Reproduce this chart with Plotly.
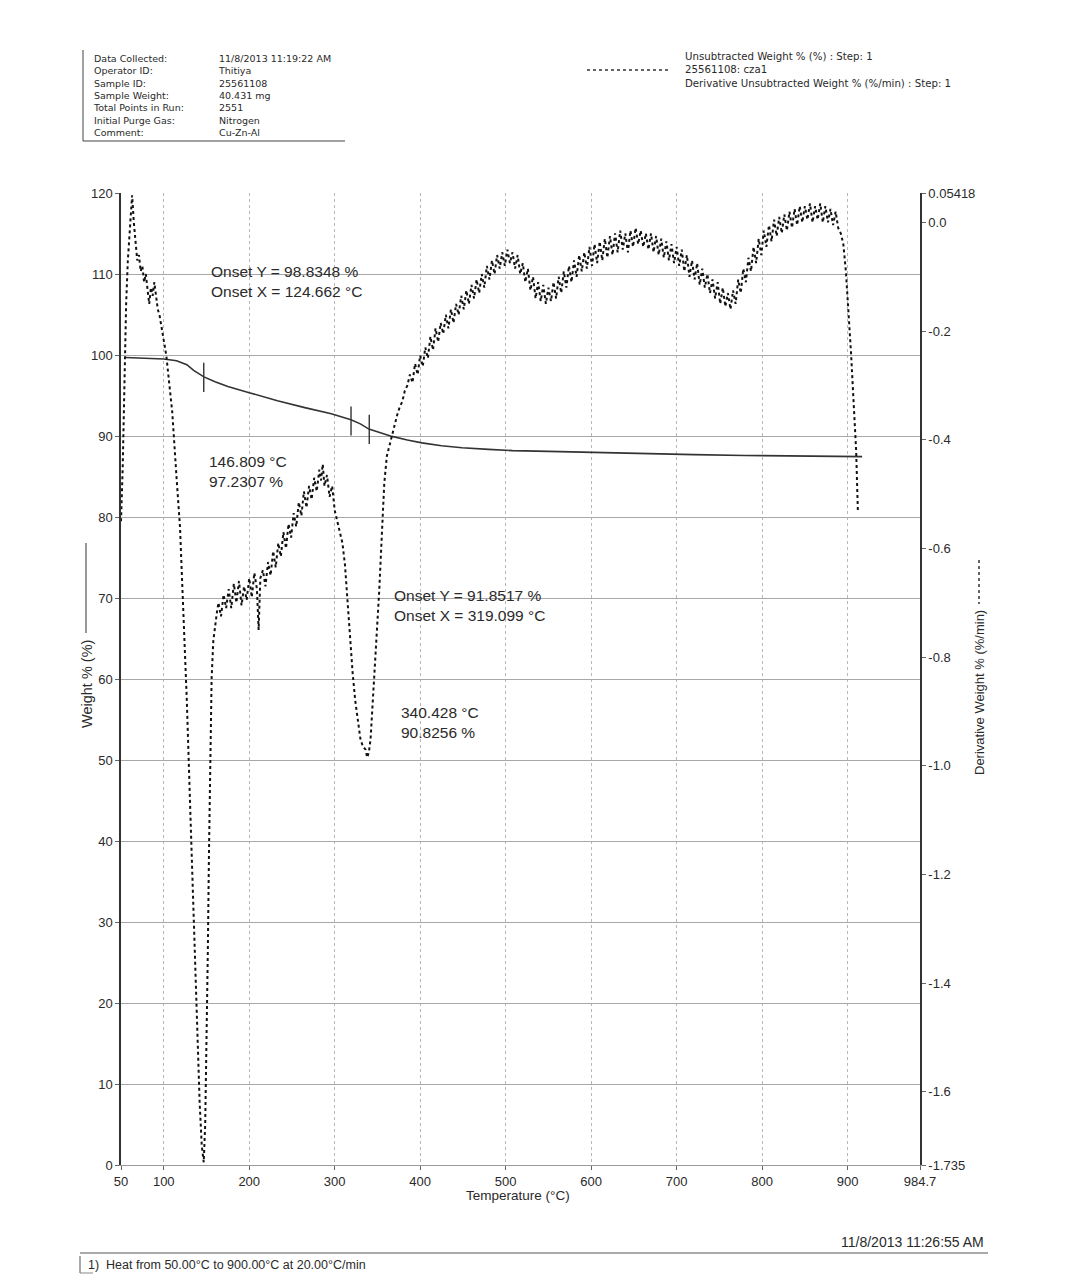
import plotly.graph_objects as go

# ---------------- data ----------------
weight_temp = [55, 80, 100, 115, 127, 135, 147, 160, 175, 200, 233, 265, 296, 319, 330, 340,
               355, 367, 385, 402, 425, 449, 480, 508, 550, 602, 660, 720, 780, 838, 880, 917]
weight_pct = [99.7, 99.6, 99.5, 99.3, 98.8, 98.1, 97.3, 96.7, 96.1, 95.35, 94.35, 93.5, 92.75, 92.0, 91.5, 90.85,
              90.3, 89.95, 89.5, 89.15, 88.8, 88.55, 88.35, 88.2, 88.1, 87.95, 87.8, 87.7, 87.6, 87.55, 87.5, 87.45]

deriv_temp = [50, 52, 54, 56, 58, 60, 62, 63, 65, 67, 69, 71, 73, 75, 77, 79, 81, 83, 85, 87, 89, 91, 93, 95, 97, 99,
              101, 103, 106, 110, 115, 119, 123, 127, 131, 135, 139, 142, 144.5, 146.8, 148.5, 150, 151.5, 153, 154.5,
              156, 158, 160, 162, 164, 167, 170, 173, 176, 179, 182, 185, 188, 191, 194, 197, 200, 203, 206, 209, 211,
              213, 216, 219, 222, 225, 228, 231, 234, 237, 240, 243, 246, 249, 252, 255, 258, 261, 264, 267, 270, 273,
              276, 279, 282, 284, 286, 288, 291, 294, 297, 300, 303, 306, 309, 312, 315, 318, 321, 324, 327, 330, 333,
              336, 338, 340, 342, 344, 346, 349, 352, 355, 358, 361, 364, 367, 370, 373, 376, 379, 382, 385, 388, 391,
              394, 397, 400, 403, 406, 409, 412, 415, 418, 421, 424, 427, 430, 433, 436, 439, 442, 445, 448, 451, 454,
              457, 460, 463, 466, 469, 472, 475, 478, 481, 484, 487, 490, 493, 496, 499, 502, 505, 508, 511, 514, 517,
              520, 523, 526, 529, 532, 535, 538, 541, 544, 547, 550, 553, 556, 559, 562, 565, 568, 571, 574, 577, 580,
              583, 586, 589, 592, 595, 598, 601, 604, 607, 610, 613, 616, 619, 622, 625, 628, 631, 634, 637, 640, 643,
              646, 649, 652, 655, 658, 661, 664, 667, 670, 673, 676, 679, 682, 685, 688, 691, 694, 697, 700, 703, 706,
              709, 712, 715, 718, 721, 724, 727, 730, 733, 736, 739, 742, 745, 748, 751, 754, 757, 760, 763, 766, 769,
              772, 775, 778, 781, 784, 787, 790, 793, 796, 799, 802, 805, 808, 811, 814, 817, 820, 823, 826, 829, 832,
              835, 838, 841, 844, 847, 850, 853, 856, 859, 862, 865, 868, 871, 874, 877, 880, 883, 886, 889, 892, 895,
              898, 901, 904, 907, 910, 912, 914, 915.5, 917]
deriv_val = [-0.55, -0.45, -0.30, -0.15, -0.07, -0.02, 0.03, 0.05, 0.0, -0.04, -0.07, -0.06, -0.09, -0.08, -0.11, -0.095,
             -0.12, -0.15, -0.12, -0.135, -0.11, -0.14, -0.16, -0.17, -0.19, -0.21,
             -0.23, -0.245, -0.29, -0.35, -0.47, -0.56, -0.72, -0.88, -1.08, -1.28, -1.47, -1.62, -1.70, -1.73, -1.66,
             -1.52, -1.35, -1.15, -0.98,
             -0.84, -0.77, -0.74, -0.72, -0.70, -0.725, -0.685, -0.71, -0.675, -0.71, -0.665, -0.70, -0.66, -0.705,
             -0.67, -0.695, -0.655, -0.69, -0.645, -0.675, -0.75,
             -0.655, -0.64, -0.67, -0.625, -0.65, -0.605, -0.635, -0.59, -0.615, -0.57, -0.60, -0.555, -0.58, -0.535,
             -0.56, -0.515, -0.54, -0.495, -0.525, -0.485, -0.51,
             -0.47, -0.495, -0.455, -0.475, -0.445, -0.485, -0.465, -0.505, -0.485, -0.53, -0.55, -0.57, -0.59, -0.63,
             -0.70, -0.77, -0.83, -0.88, -0.92, -0.95, -0.965,
             -0.97, -0.985, -0.975, -0.95, -0.90, -0.84, -0.76, -0.68, -0.58, -0.48, -0.43, -0.41, -0.39, -0.37,
             -0.355, -0.34, -0.33, -0.31, -0.30, -0.28, -0.295,
             -0.26, -0.28, -0.245, -0.265, -0.23, -0.25, -0.21, -0.235, -0.195, -0.22, -0.185, -0.205, -0.17, -0.195,
             -0.16, -0.185, -0.15, -0.17, -0.135, -0.16, -0.125,
             -0.15, -0.115, -0.14, -0.105, -0.13, -0.095, -0.12, -0.08, -0.105, -0.07, -0.095, -0.06, -0.085, -0.055,
             -0.08, -0.05, -0.075, -0.055, -0.085, -0.06, -0.095,
             -0.075, -0.11, -0.085, -0.125, -0.10, -0.14, -0.11, -0.145, -0.115, -0.15, -0.12, -0.145, -0.11, -0.14,
             -0.10, -0.13, -0.09, -0.12, -0.08, -0.11, -0.07,
             -0.10, -0.06, -0.09, -0.055, -0.085, -0.045, -0.08, -0.04, -0.075, -0.035, -0.07, -0.03, -0.065, -0.025,
             -0.06, -0.02, -0.055, -0.015, -0.05, -0.02, -0.055,
             -0.015, -0.045, -0.01, -0.04, -0.015, -0.045, -0.02, -0.05, -0.02, -0.055, -0.025, -0.06, -0.03, -0.065,
             -0.035, -0.07, -0.04, -0.075, -0.045, -0.08,
             -0.05, -0.09, -0.06, -0.10, -0.07, -0.105, -0.075, -0.115, -0.085, -0.12, -0.095, -0.13, -0.105, -0.14,
             -0.11, -0.15, -0.12, -0.155, -0.13, -0.16,
             -0.125, -0.15, -0.105, -0.13, -0.085, -0.11, -0.065, -0.09, -0.045, -0.075, -0.03, -0.06, -0.015, -0.045,
             -0.005, -0.035, 0.005, -0.025, 0.01, -0.02,
             0.015, -0.015, 0.02, -0.01, 0.025, -0.005, 0.03, 0.0, 0.03, 0.005, 0.035, 0.0, 0.03, 0.005, 0.035, 0.0,
             0.03, 0.0, 0.025, -0.005, 0.02,
             -0.01, -0.02, -0.04, -0.09, -0.16, -0.24, -0.33, -0.42, -0.53]

onset_temp = [146.809, 319.099, 340.428]
onset_weight = [97.2307, 91.8517, 90.8256]
marker_half = 1.8

x_ticks = [50, 100, 200, 300, 400, 500, 600, 700, 800, 900, 984.7]
x_ticktext = ["50", "100", "200", "300", "400", "500", "600", "700", "800", "900", "984.7"]
y2_ticks = [0.05418, 0.0, -0.2, -0.4, -0.6, -0.8, -1.0, -1.2, -1.4, -1.6, -1.735]
y2_ticktext = ["0.05418", "0.0", "-0.2", "-0.4", "-0.6", "-0.8", "-1.0", "-1.2", "-1.4", "-1.6", "-1.735"]

header_labels = ["Data Collected:", "Operator ID:", "Sample ID:", "Sample Weight:",
                 "Total Points in Run:", "Initial Purge Gas:", "Comment:"]
header_values = ["11/8/2013 11:19:22 AM", "Thitiya", "25561108", "40.431 mg", "2551", "Nitrogen", "Cu-Zn-Al"]
legend_lines = ["Unsubtracted Weight % (%) : Step: 1", "25561108: cza1",
                "Derivative Unsubtracted Weight % (%/min) : Step: 1"]

# ---------------- layout geometry (page pixels) ----------------
PAGE_W, PAGE_H = 1070, 1283
OFF = 8  # default body margin of the html page
W, H = PAGE_W - 2 * OFF, PAGE_H - 2 * OFF
L, R, T, B = 121, 920, 193, 1165
FONT = "Arial, Liberation Sans, sans-serif"
WIDE = "DejaVu Sans, Arial, sans-serif"
TXT = "#2a2a2a"


def px(x):
    return (x - L) / (R - L)


def py(y):
    return (B - y) / (B - T)


fig = go.Figure()

fig.add_trace(go.Scatter(x=weight_temp, y=weight_pct, mode="lines",
                         line=dict(color="#333333", width=1.6), yaxis="y", showlegend=False,
                         hoverinfo="skip"))
fig.add_trace(go.Scatter(x=deriv_temp, y=deriv_val, mode="lines",
                         line=dict(color="#111111", width=2, dash="dot"), yaxis="y2", showlegend=False,
                         hoverinfo="skip"))
for t, w in zip(onset_temp, onset_weight):
    fig.add_trace(go.Scatter(x=[t, t], y=[w - marker_half, w + marker_half], mode="lines",
                             line=dict(color="#333333", width=1.4), yaxis="y", showlegend=False,
                             hoverinfo="skip"))

annotations = []


def text(xp, yp, s, size=10.5, anchor="left", angle=0, color=TXT, family=FONT):
    if isinstance(s, (list, tuple)):
        s = "<br>".join(s)
    annotations.append(dict(x=px(xp), y=py(yp), xref="paper", yref="paper", text=s, showarrow=False,
                            xanchor=anchor, yanchor="middle", textangle=angle, align="left",
                            font=dict(family=family, size=size, color=color)))


# header block (7 lines)
text(91, 96, header_labels, size=9.5, family=WIDE)
text(216, 96, header_values, size=9.5, family=WIDE)

# legend block (3 lines at ~57, 70, 83)
text(683, 70, legend_lines, size=10.2, family=WIDE)

# onset annotations
text(209, 281, ["Onset Y = 98.8348 %", "Onset X = 124.662 °C"], size=15.5)
text(207, 471.5, ["146.809 °C", "97.2307 %"], size=15.5)
text(392, 605, ["Onset Y = 91.8517 %", "Onset X = 319.099 °C"], size=15.5)
text(399, 722, ["340.428 °C", "90.8256 %"], size=15.5)

# axis titles
text(518, 1195, "Temperature (°C)", size=13.5, anchor="center")
text(87, 684, "Weight % (%)", size=14.5, anchor="center", angle=-90)
text(979, 692, "Derivative Weight % (%/min)", size=13, anchor="center", angle=-90)

# footer
text(986, 1242, "11/8/2013 11:26:55 AM", size=14, anchor="right")
text(86, 1265, "1)  Heat from 50.00°C to 900.00°C at 20.00°C/min", size=12.5)

shapes = []


def seg(x0, y0, x1, y1, color="#444444", width=1, dash="solid"):
    shapes.append(dict(type="line", xref="paper", yref="paper", x0=px(x0), y0=py(y0), x1=px(x1), y1=py(y1),
                       line=dict(color=color, width=width, dash=dash)))


seg(83, 50, 83, 141)
seg(83, 141, 345, 141)
seg(587, 70, 670, 70, color="#333333", width=1.5, dash="dot")
seg(86, 543, 86, 633, color="#333333", width=1)
seg(979, 560, 979, 604, color="#333333", width=1.5, dash="dot")
seg(80, 1253, 988, 1253, color="#555555", width=1)
seg(80, 1256, 80, 1273, color="#555555", width=1)
seg(80, 1273, 93, 1273, color="#888888", width=1)

fig.update_layout(
    width=W, height=H,
    margin=dict(l=L - OFF, r=W - (R - OFF), t=T - OFF, b=H - (B - OFF), pad=0),
    paper_bgcolor="white", plot_bgcolor="white",
    font=dict(family=FONT, size=12, color=TXT),
    showlegend=False,
    annotations=annotations,
    shapes=shapes,
    xaxis=dict(range=[50, 984.7], tickvals=x_ticks, ticktext=x_ticktext,
               showgrid=True, gridcolor="#b8b8b8", griddash="dot", gridwidth=1,
               zeroline=False, showline=True, linecolor="#9a9a9a", linewidth=1,
               ticks="outside", ticklen=4, tickcolor="#666666",
               tickfont=dict(family=FONT, size=13, color=TXT)),
    yaxis=dict(range=[0, 120], dtick=10, tick0=0,
               showgrid=True, gridcolor="#a8a8a8", gridwidth=1,
               zeroline=False, showline=True, linecolor="#333333", linewidth=1.5,
               ticks="outside", ticklen=4, tickcolor="#666666",
               tickfont=dict(family=FONT, size=13, color=TXT)),
    yaxis2=dict(range=[-1.735, 0.05418], overlaying="y", side="right",
                tickvals=y2_ticks, ticktext=y2_ticktext, showgrid=False,
                zeroline=False, showline=True, linecolor="#333333", linewidth=1.5,
                ticks="outside", ticklen=4, tickcolor="#666666",
                tickfont=dict(family=FONT, size=13, color=TXT)),
)

fig.write_html("out.html")
